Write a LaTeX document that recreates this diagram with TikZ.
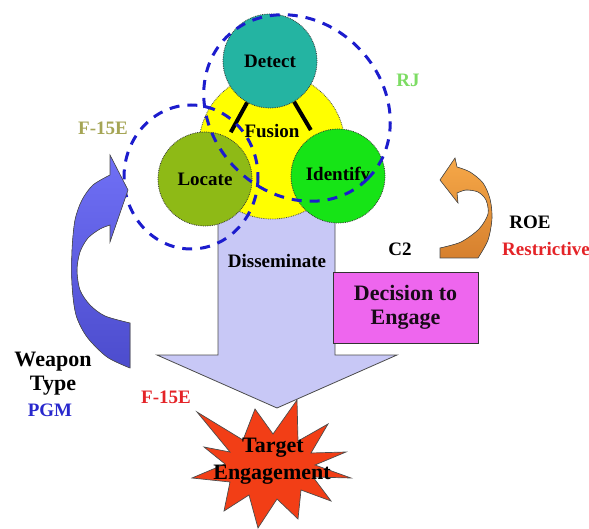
\documentclass[tikz,border=0pt]{standalone}
\usepackage{fontspec}
\setmainfont{Liberation Serif}
\newfontfamily\tms{Liberation Serif}
\definecolor{lblue}{RGB}{200,200,246}
\definecolor{detectc}{RGB}{36,180,162}
\definecolor{locatec}{RGB}{142,186,22}
\definecolor{identc}{RGB}{22,228,22}
\definecolor{fusionc}{RGB}{255,255,0}
\definecolor{dashblue}{RGB}{28,28,205}
\definecolor{magbox}{RGB}{238,102,238}
\definecolor{rjgreen}{RGB}{125,220,100}
\definecolor{olivetext}{RGB}{165,165,85}
\definecolor{redtext}{RGB}{228,36,40}
\definecolor{pgmblue}{RGB}{40,40,205}
\definecolor{starred}{RGB}{242,62,22}
\definecolor{bluetop}{RGB}{112,112,246}
\definecolor{bluebot}{RGB}{76,76,205}
\definecolor{orangetop}{RGB}{246,168,72}
\definecolor{orangebot}{RGB}{214,128,46}
\begin{document}
\begin{tikzpicture}[x=1pt,y=-1pt,
  lbl/.style={font=\tms\bfseries\fontsize{19}{21}\selectfont, inner sep=0pt},
  biglbl/.style={font=\tms\bfseries\fontsize{22}{25}\selectfont, inner sep=0pt, align=center},
  circ/.style={circle, draw=black!80, densely dotted, line width=0.8pt, minimum size=94pt, inner sep=0pt, font=\tms\bfseries\fontsize{19}{21}\selectfont},
  dashring/.style={draw=dashblue, line width=3pt, dash pattern=on 10pt off 8pt},
  outl/.style={draw=black!70, line width=0.8pt},
  link/.style={line width=4pt, draw=black}
]
\useasboundingbox (0,0) rectangle (589,529);

% big disseminate arrow
\fill[lblue] (218,150) -- (335,150) -- (335,355) -- (397,355) -- (277,408) -- (157,355) -- (218,355) -- cycle;
\draw[outl] (218,200) -- (218,355) -- (157,355) -- (277,408) -- (397,355) -- (335,355) -- (335,200);

% fusion circle
\node[circle, fill=fusionc, draw=black!70, densely dotted, line width=0.8pt, minimum size=146pt, inner sep=0pt] (fusionring) at (272,146) {};

% circles
\node[circ, fill=detectc] (detect) at (270,61) {Detect};
\node[circ, fill=locatec] (locate) at (205,179) {Locate};
\node[circ, fill=identc] (identify) at (338,176) {Identify};
\draw[link, shorten >=6pt] (detect) -- (locate);
\draw[link, shorten >=6pt] (detect) -- (identify);
\node[lbl] (fusion) at (272,131) {Fusion};

% dashed rings
\draw[dashring, rotate around={-45:(297,108)}] (297,108) ellipse (100 and 86);
\draw[dashring] (191,177) ellipse (67 and 72);

% decision box
\node[draw=black!80, line width=0.8pt, fill=magbox, minimum width=145pt, minimum height=71pt, inner sep=0pt, biglbl, text=black!90!magbox] (decision) at (405.5,307.5) {Decision to\\[-1pt]Engage};

% orange curved arrow
\fill[top color=orangetop, bottom color=orangebot, draw=black!70, line width=0.6pt]
  (455,158) -- (440,180) -- (458,203) -- (457,193)
  -- plot[smooth] coordinates {(457,193) (466,190) (478,192) (486,200) (488,214) (479,229) (461,242) (440,248)}
  -- (440,258) -- (478,258)
  -- plot[smooth] coordinates {(478,258) (488,240) (492,218) (490,199) (483,183) (470,172) (457,167)}
  -- cycle;

% blue curved arrow
\fill[top color=bluetop, bottom color=bluebot, draw=black!70, line width=0.6pt]
  (110,155) -- (128,190) -- (110,242) -- (110,225)
  -- plot[smooth] coordinates {(110,225) (100,229) (88,238) (80,252) (77,270) (80,290) (90,305) (105,316) (130,323)}
  -- (130,368)
  -- plot[smooth] coordinates {(130,368) (107,357) (87,337) (76,315) (72,285) (72,250) (75,220) (82,200) (93,185) (110,175)}
  -- cycle;

% starburst
\filldraw[fill=starred, draw=black!70, line width=0.7pt]
  (197,412) -- (243,440) -- (255,409) -- (273,434) -- (297,400) -- (298,441)
  -- (328,424) -- (311,453) -- (346,452) -- (315,465) -- (351,478) -- (313,477)
  -- (331,501) -- (301,490) -- (298,519) -- (277,499) -- (258,528) -- (249,495)
  -- (224,511) -- (230,482) -- (192,478) -- (225,464) -- (204,447) -- (230,452) -- cycle;
\node[biglbl] (target) at (273,448) {Target};
\node[biglbl] (engagement) at (272,475) {Engagement};

% labels
\node[lbl] (disseminate) at (277,261) {Disseminate};
\node[lbl, text=rjgreen] (rj) at (408,80) {RJ};
\node[lbl, text=olivetext] (f15a) at (103,128) {F-15E};
\node[lbl] (c2) at (400,249) {C2};
\node[lbl] (roe) at (530,222) {ROE};
\node[lbl, text=redtext] (restr) at (546,249) {Restrictive};
\node[biglbl] (weapon) at (53,362) {Weapon};
\node[biglbl] (wtype) at (53,386) {Type};
\node[lbl, text=pgmblue] (pgm) at (50,410) {PGM};
\node[lbl, text=redtext] (f15b) at (166,397) {F-15E};
\end{tikzpicture}
\end{document}
